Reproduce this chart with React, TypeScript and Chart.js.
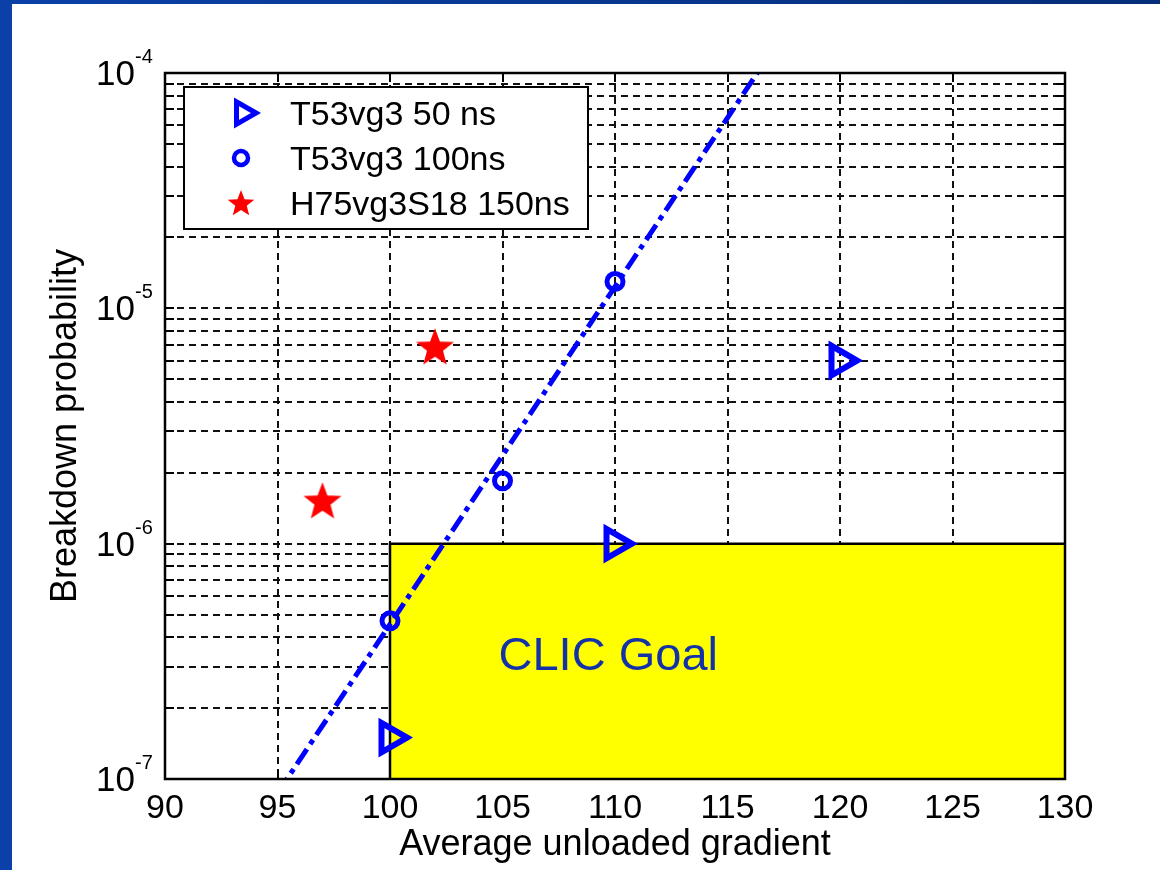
import React, { useEffect, useRef } from 'react';
import { Chart, registerables } from 'chart.js';

Chart.register(...registerables);

// ---- data ----
const xTicks = [90, 95, 100, 105, 110, 115, 120, 125, 130];
const yDecadeExponents = [-7, -6, -5, -4];
const yMinorMultipliers = [2, 3, 4, 5, 6, 7, 8, 9];

const seriesLabels = ['T53vg3 50 ns', 'T53vg3 100ns', 'H75vg3S18 150ns'];

const t50X = [100, 110, 120];
const t50Y = [1.5e-7, 1.0e-6, 6.0e-6];

const t100X = [100, 105, 110];
const t100Y = [4.7e-7, 1.85e-6, 1.3e-5];

const h75X = [97, 102];
const h75Y = [1.53e-6, 6.9e-6];

const fitX = [95, 117];
const fitY = [8.7e-8, 1.25e-4];

const goalX = [100, 100, 130];
const goalY = [1e-7, 1e-6, 1e-6];
const goalLabel = 'CLIC Goal';
const goalLabelX = 109.7;
const goalLabelY = 2.9e-7;

const xTitle = 'Average unloaded gradient';
const yTitle = 'Breakdown probability';

const FONT = '"Liberation Sans", Arial, Helvetica, sans-serif';
const BLUE = '#0000ff';
const RED = '#ff0000';

const pts = (xs: number[], ys: number[]) => xs.map((x, i) => ({ x, y: ys[i] }));

function starPath(ctx: CanvasRenderingContext2D, cx: number, cy: number, R: number, r: number) {
  ctx.beginPath();
  for (let i = 0; i < 10; i++) {
    const a = -Math.PI / 2 + (i * Math.PI) / 5;
    const rad = i % 2 === 0 ? R : r;
    const px = cx + rad * Math.cos(a);
    const py = cy + rad * Math.sin(a);
    if (i === 0) ctx.moveTo(px, py);
    else ctx.lineTo(px, py);
  }
  ctx.closePath();
}

function makeStar(R: number) {
  const c = document.createElement('canvas');
  const s = Math.ceil(R * 2 + 4);
  c.width = s;
  c.height = s;
  const ctx = c.getContext('2d')!;
  ctx.fillStyle = RED;
  starPath(ctx, s / 2, s / 2 + R * 0.1, R, R * 0.42);
  ctx.fill();
  return c;
}

function yGridValues(): number[] {
  const vals: number[] = [];
  yDecadeExponents.forEach((e) => {
    vals.push(Math.pow(10, e));
    if (e < yDecadeExponents[yDecadeExponents.length - 1]) {
      yMinorMultipliers.forEach((m) => vals.push(m * Math.pow(10, e)));
    }
  });
  return vals;
}

const decorPlugin = {
  id: 'decor',
  beforeDraw(chart: any) {
    const { ctx, width, height } = chart;
    ctx.save();
    ctx.fillStyle = '#ffffff';
    ctx.fillRect(0, 0, width, height);
    const g = ctx.createLinearGradient(0, 0, width, 0);
    g.addColorStop(0, '#0a40a8');
    g.addColorStop(1, '#052e78');
    ctx.fillStyle = g;
    ctx.fillRect(0, 0, width, 4);
    ctx.fillStyle = '#0a40a8';
    ctx.fillRect(0, 0, 12, height);
    ctx.restore();
  },
  beforeDatasetsDraw(chart: any) {
    const { ctx, chartArea } = chart;
    const { left, right, top, bottom } = chartArea;
    const x = chart.scales.x;
    const y = chart.scales.y;
    ctx.save();
    ctx.strokeStyle = '#111';
    ctx.lineWidth = 2;
    ctx.setLineDash([7, 5]);
    xTicks.forEach((v) => {
      if (v <= x.min || v >= x.max) return;
      const px = Math.round(x.getPixelForValue(v));
      ctx.beginPath();
      ctx.moveTo(px, top);
      ctx.lineTo(px, bottom);
      ctx.stroke();
    });
    const yv = yGridValues();
    yv.forEach((v) => {
      if (v <= y.min * 1.0001 || v >= y.max * 0.9999) return;
      const py = Math.round(y.getPixelForValue(v));
      ctx.beginPath();
      ctx.moveTo(left, py);
      ctx.lineTo(right, py);
      ctx.stroke();
    });
    // inward tick marks
    ctx.setLineDash([]);
    ctx.strokeStyle = '#000';
    ctx.lineWidth = 2;
    const tl = 9;
    xTicks.forEach((v) => {
      if (v <= x.min || v >= x.max) return;
      const px = Math.round(x.getPixelForValue(v));
      ctx.beginPath();
      ctx.moveTo(px, bottom);
      ctx.lineTo(px, bottom - tl);
      ctx.moveTo(px, top);
      ctx.lineTo(px, top + tl);
      ctx.stroke();
    });
    yv.forEach((v) => {
      if (v <= y.min * 1.0001 || v >= y.max * 0.9999) return;
      const py = Math.round(y.getPixelForValue(v));
      ctx.beginPath();
      ctx.moveTo(left, py);
      ctx.lineTo(left + tl, py);
      ctx.moveTo(right, py);
      ctx.lineTo(right - tl, py);
      ctx.stroke();
    });
    ctx.restore();
  },
  afterDatasetsDraw(chart: any) {
    const { ctx, chartArea } = chart;
    const { left, right, top, bottom } = chartArea;
    const x = chart.scales.x;
    const y = chart.scales.y;
    ctx.save();
    // CLIC Goal label
    ctx.fillStyle = '#1432a8';
    ctx.font = `47px ${FONT}`;
    ctx.textAlign = 'center';
    ctx.textBaseline = 'alphabetic';
    ctx.fillText(goalLabel, x.getPixelForValue(goalLabelX), y.getPixelForValue(goalLabelY));

    // axes box
    ctx.strokeStyle = '#000';
    ctx.lineWidth = 2.5;
    ctx.strokeRect(left, top, right - left, bottom - top);

    // y tick labels with superscripts
    ctx.fillStyle = '#000';
    yDecadeExponents.forEach((e) => {
      const py = y.getPixelForValue(Math.pow(10, e));
      ctx.font = `35px ${FONT}`;
      ctx.textAlign = 'right';
      ctx.textBaseline = 'alphabetic';
      ctx.fillText('10', left - 30, py + 12);
      ctx.font = `20px ${FONT}`;
      ctx.textAlign = 'left';
      ctx.fillText(String(e), left - 30, py - 10);
    });

    // legend
    const bx = left + 19;
    const by = top + 14;
    const bw = 404;
    const bh = 142;
    ctx.fillStyle = '#fff';
    ctx.fillRect(bx, by, bw, bh);
    ctx.strokeStyle = '#000';
    ctx.lineWidth = 2;
    ctx.strokeRect(bx, by, bw, bh);
    const mx = left + 78;
    const rows = [top + 40, top + 85, top + 130];
    // triangle
    ctx.strokeStyle = BLUE;
    ctx.lineWidth = 5;
    const r = 13;
    ctx.beginPath();
    ctx.moveTo(mx + r, rows[0]);
    ctx.lineTo(mx - r / 2, rows[0] - r * 0.866);
    ctx.lineTo(mx - r / 2, rows[0] + r * 0.866);
    ctx.closePath();
    ctx.stroke();
    // circle
    ctx.lineWidth = 4.5;
    ctx.beginPath();
    ctx.arc(mx - 2, rows[1], 7, 0, Math.PI * 2);
    ctx.stroke();
    // star
    ctx.fillStyle = RED;
    starPath(ctx, mx - 2, rows[2] + 1, 14, 6);
    ctx.fill();
    ctx.fillStyle = '#000';
    ctx.font = `34px ${FONT}`;
    ctx.textAlign = 'left';
    ctx.textBaseline = 'alphabetic';
    seriesLabels.forEach((t, i) => ctx.fillText(t, left + 125, rows[i] + 12));
    ctx.restore();
  },
};

export default function App() {
  const ref = useRef<HTMLCanvasElement>(null);
  useEffect(() => {
    const canvas = ref.current;
    if (!canvas) return;
    const star = makeStar(20);
    const chart = new Chart(canvas, {
      type: 'line',
      data: {
        datasets: [
          {
            label: seriesLabels[0],
            data: pts(t50X, t50Y),
            showLine: false,
            pointStyle: 'triangle',
            pointRotation: 90,
            pointRadius: 17,
            pointBorderWidth: 6,
            pointBorderColor: BLUE,
            pointBackgroundColor: 'rgba(0,0,0,0)',
            order: 1,
          },
          {
            label: seriesLabels[1],
            data: pts(t100X, t100Y),
            showLine: false,
            pointStyle: 'circle',
            pointRadius: 8,
            pointBorderWidth: 5,
            pointBorderColor: BLUE,
            pointBackgroundColor: 'rgba(0,0,0,0)',
            order: 1,
          },
          {
            label: seriesLabels[2],
            data: pts(h75X, h75Y),
            showLine: false,
            pointStyle: star as any,
            pointRadius: 20,
            order: 1,
          },
          {
            label: 'fit',
            data: pts(fitX, fitY),
            showLine: true,
            borderColor: BLUE,
            borderWidth: 5,
            borderDash: [18, 6, 5, 6],
            pointRadius: 0,
            fill: false,
            clip: 0,
            order: 2,
          } as any,
          {
            label: goalLabel,
            data: pts(goalX, goalY),
            showLine: true,
            borderColor: '#000',
            borderWidth: 2.5,
            backgroundColor: '#ffff00',
            fill: 'start',
            pointRadius: 0,
            clip: 0,
            order: 10,
          } as any,
        ],
      },
      options: {
        responsive: false,
        animation: false,
        events: [],
        layout: { padding: { left: 0, top: 73, right: 95, bottom: 0 } },
        plugins: {
          legend: { display: false },
          tooltip: { enabled: false },
        },
        scales: {
          x: {
            type: 'linear',
            min: 90,
            max: 130,
            grid: { display: false },
            border: { display: false },
            afterBuildTicks: (s: any) => {
              s.ticks = xTicks.map((v) => ({ value: v }));
            },
            afterFit: (s: any) => {
              s.height = 91;
            },
            ticks: {
              autoSkip: false,
              maxRotation: 0,
              padding: 1,
              color: '#000',
              font: { family: FONT, size: 34 },
              callback: (v: any) => String(v),
            },
            title: {
              display: true,
              text: xTitle,
              color: '#000',
              font: { family: FONT, size: 36 },
              padding: { top: 0, bottom: 3 },
            },
          },
          y: {
            type: 'logarithmic',
            min: 1e-7,
            max: 1e-4,
            grid: { display: false },
            border: { display: false },
            ticks: { display: false },
            afterFit: (s: any) => {
              s.width = 165;
            },
            title: {
              display: true,
              text: yTitle,
              color: '#000',
              font: { family: FONT, size: 36 },
              padding: { top: 44, bottom: 0 },
            },
          },
        },
      } as any,
      plugins: [decorPlugin as any],
    });
    return () => chart.destroy();
  }, []);
  return (
    <div style={{ position: 'fixed', left: 0, top: 0, width: 1160, height: 870 }}>
      <canvas ref={ref} width={1160} height={870} style={{ display: 'block', width: 1160, height: 870 }} />
    </div>
  );
}
